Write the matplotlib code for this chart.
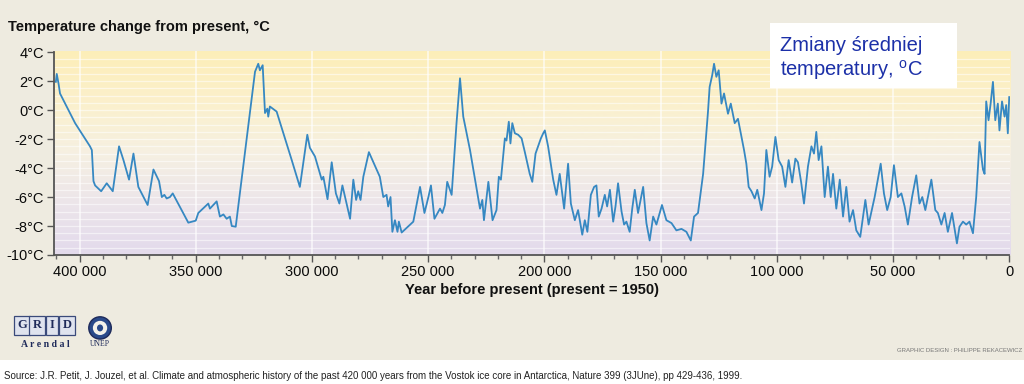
import numpy as np
import matplotlib
matplotlib.use('Agg')
import matplotlib.pyplot as plt
from matplotlib.colors import LinearSegmentedColormap
from matplotlib.patches import Rectangle, Ellipse
from matplotlib.ticker import MultipleLocator

plt.rcParams['font.family'] = ['Liberation Sans', 'DejaVu Sans']
plt.rcParams['mathtext.fontset'] = 'custom'
plt.rcParams['mathtext.rm'] = 'Liberation Sans'

# Vostok record: years before present, temperature change
years = [410200, 409800, 409000, 408400, 401900, 395500, 394700, 394000, 393300, 390700,
         388300, 385700, 383000, 381100, 378700, 376800, 374700, 370700, 368200, 365800,
         364600, 363500, 362500, 361100, 359900, 353200, 350000, 348900, 344600, 343900,
         341000, 339600, 338100, 336700, 335300, 334500, 332800, 324500, 323100, 322400,
         321200, 320200, 319200, 318800, 318100, 315200, 308700, 305200, 302000, 300900,
         298700, 295800, 295100, 293300, 291500, 289700, 288200, 286900, 283600, 282200,
         281000, 280100, 279100, 277900, 275500, 270800, 269300, 267900, 267200, 266200,
         265400, 264300, 263200, 262600, 261400, 256400, 253500, 251600, 249900, 248800,
         247300, 244900, 243900, 242800, 241800, 239900, 237800, 236300, 234900, 232000,
         227700, 226700, 226000, 224100, 222300, 220600, 219600, 218700, 217000, 216300,
         215300, 214600, 213800, 212700, 211300, 209800, 208400, 207300, 206300, 205200,
         203800, 201500, 200500, 199800, 198400, 196200, 194800, 193400, 191500, 189800,
         188600, 186900, 185500, 183700, 182600, 181500, 180000, 178600, 177600, 176600,
         175400, 174000, 173000, 171800, 170400, 169400, 168300, 166800, 165700, 164700,
         163300, 162200, 161100, 159700, 157500, 156100, 154700, 153200, 151800, 149400,
         147500, 145300, 143200, 141000, 138900, 137000, 135600, 133900, 131700, 129600,
         128900, 127800, 127000, 126000, 125000, 123800, 122700, 121000, 119800, 118100,
         116700, 115200, 114100, 113100, 112100, 110900, 109500, 108400, 106600, 105500,
         104500, 103100, 102000, 100600, 99200, 97700, 96300, 94900, 93400, 92000,
         90900, 89500, 88300, 86600, 85100, 84000, 83000, 82000, 80800, 79400,
         78000, 76800, 75800, 74400, 72900, 71500, 70100, 68700, 67200, 65800,
         64100, 61900, 60500, 57900, 55300, 53900, 52500, 51000, 49600, 47900,
         46400, 45000, 43600, 41800, 40000, 38600, 37400, 36100, 35000, 33500,
         31800, 30700, 29200, 27800, 26400, 24600, 23500, 22500, 21400, 19900,
         18500, 17100, 15600, 14200, 12800, 11300, 10600, 9900, 8900, 8000,
         7000, 6000, 4900, 4200, 3100, 2000, 1300, 600, 0]
temps = [1.95, 2.5, 1.8, 1.15, -0.9, -2.5, -2.76, -4.9, -5.2, -5.6,
         -5.05, -5.6, -2.5, -3.45, -4.8, -3.0, -5.3, -6.55, -4.1, -4.9,
         -6.0, -5.85, -6.1, -6.0, -5.75, -7.77, -7.63, -7.1, -6.45, -6.8,
         -6.3, -7.35, -7.2, -7.5, -7.35, -8.0, -8.05, 2.65, 3.2, 2.75,
         3.1, -0.2, 0.1, -0.45, 0.25, -0.1, -3.45, -5.3, -1.7, -2.6,
         -3.2, -4.8, -4.6, -6.15, -3.6, -5.75, -6.45, -5.2, -7.5, -4.8,
         -6.2, -5.6, -6.2, -4.6, -2.9, -4.6, -6.0, -5.85, -6.65, -6.0,
         -8.4, -7.6, -8.4, -7.7, -8.45, -7.7, -5.3, -7.1, -6.0, -5.2,
         -7.5, -6.8, -7.1, -6.55, -4.95, -5.85, -0.9, 2.2, -0.45, -2.75,
         -6.8, -6.2, -7.6, -4.95, -7.6, -6.9, -4.6, -4.8, -1.95, -2.1,
         -0.8, -2.3, -0.9, -1.6, -1.7, -1.95, -2.9, -3.7, -4.4, -4.95,
         -3.0, -1.95, -1.6, -1.4, -2.5, -4.8, -5.85, -4.4, -6.8, -3.7,
         -6.45, -7.6, -6.9, -8.6, -7.6, -8.4, -5.85, -5.3, -5.2, -7.35,
         -6.8, -5.85, -6.65, -5.5, -7.7, -6.65, -5.05, -7.0, -7.9, -7.7,
         -8.4, -6.8, -5.5, -7.1, -5.3, -7.8, -9.0, -7.35, -7.9, -6.55,
         -7.6, -7.8, -8.3, -8.2, -8.4, -9.0, -7.35, -7.1, -4.4, -0.1,
         1.6, 2.4, 3.2, 2.3, 2.75, 0.45, 1.15, -0.25, 0.45, -0.9,
         -0.6, -1.85, -2.75, -3.7, -5.3, -5.6, -6.1, -5.5, -6.9, -5.75,
         -2.75, -4.6, -3.9, -1.85, -3.45, -3.9, -5.3, -3.45, -5.0, -3.35,
         -3.6, -5.0, -6.45, -3.9, -2.5, -3.0, -1.5, -3.45, -2.5, -6.0,
         -3.9, -6.0, -4.4, -6.8, -4.8, -7.35, -5.3, -7.7, -6.9, -8.3,
         -8.75, -6.2, -7.9, -6.0, -3.7, -5.75, -6.9, -6.0, -3.8, -6.0,
         -5.75, -6.65, -7.9, -6.0, -4.5, -6.45, -6.0, -6.9, -6.0, -4.8,
         -6.9, -7.1, -7.9, -7.1, -8.4, -7.1, -8.2, -9.2, -8.05, -7.7,
         -7.9, -7.7, -8.5, -6.0, -2.2, -4.1, -4.4, 0.6, -0.7, 0.45,
         1.95, -0.7, 0.45, -1.4, 0.6, -0.45, 0.35, -1.6, 0.9]

y_ticks = [4, 2, 0, -2, -4, -6, -8, -10]
x_ticks = [400000, 350000, 300000, 250000, 200000, 150000, 100000, 50000, 0]

fig = plt.figure(figsize=(10.24, 3.84), dpi=100, facecolor='#eeebe0')
fig.add_artist(Rectangle((0, 0), 1, 0.062, transform=fig.transFigure,
                         facecolor='white', edgecolor='none', zorder=0))

ax = fig.add_axes([0.0527, 0.336, 0.934, 0.53])
ax.set_facecolor('none')

cmap = LinearSegmentedColormap.from_list('bg', ['#e3daec', '#ece5ea', '#f6f0e2', '#fbf0cc', '#fdeeb8'])
grad = np.linspace(0, 1, 256).reshape(-1, 1)
ax.imshow(grad, cmap=cmap, origin='lower', extent=[0, 1, 0, 1], transform=ax.transAxes,
          aspect='auto', zorder=0)

for v in np.arange(-9.5, 4.0, 0.5):
    ax.axhline(v, color='white', lw=0.9, alpha=0.55, zorder=1)
for v in x_ticks[:-1]:
    ax.axvline(v, color='white', lw=1.2, alpha=0.7, zorder=1)

ax.plot(years, temps, color='#3688c2', lw=1.3, zorder=3)

ax.set_xlim(411000, -500)
ax.set_ylim(-10, 4.05)

for s in ['top', 'right']:
    ax.spines[s].set_visible(False)
for s in ['left', 'bottom']:
    ax.spines[s].set_color('#555555')
    ax.spines[s].set_linewidth(1.3)
ax.spines['left'].set_bounds(-10, 4)
ax.spines['bottom'].set_bounds(411000, 0)

ax.set_yticks(y_ticks)
ax.set_yticklabels([f'{v}°C' for v in y_ticks])
ax.set_xticks(x_ticks)
ax.set_xticklabels([f'{v // 1000} 000' if v else '0' for v in x_ticks])
ax.xaxis.set_minor_locator(MultipleLocator(10000))
ax.tick_params(axis='both', which='major', length=5, width=1, color='#555555',
               labelsize=10.5, labelcolor='#0a0a0a', pad=2)
ax.tick_params(axis='x', which='minor', length=3, width=1, color='#666666')

ax.set_xlabel('Year before present (present = 1950)', fontsize=10.5, fontweight='bold',
              color='#111111', labelpad=3)

fig.text(0.008, 0.929, 'Temperature change from present, °C', fontsize=10.5,
         fontweight='bold', color='#111111', va='center')

fig.add_artist(Rectangle((0.752, 0.771), 0.1826, 0.169, transform=fig.transFigure,
                         facecolor='white', edgecolor='none', zorder=5))
fig.text(0.762, 0.882, 'Zmiany średniej', fontsize=14.5, color='#1c30a8', va='center', zorder=6)
fig.text(0.762, 0.818, 'temperatury, $^{\\rm o}$C', fontsize=14.5, color='#1c30a8',
         va='center', zorder=6)

# logos
for i, ch in enumerate('GRID'):
    fig.text(0.0215 + i * 0.0146, 0.1525, ch, fontsize=9, fontweight='bold',
             family='Liberation Serif', color='#1e2a5a', ha='center', va='center',
             bbox=dict(boxstyle='square,pad=0.28', facecolor='#dfe3ee', edgecolor='#3a4a7a', lw=0.9))
fig.text(0.0445, 0.104, 'A r e n d a l', fontsize=7, fontweight='bold',
         family='Liberation Serif', color='#1e2a5a', ha='center', va='center')
fig.add_artist(Ellipse((0.0977, 0.146), 0.022, 0.058, transform=fig.transFigure,
                       facecolor='#2a4a8a', edgecolor='#1e2a5a', lw=1))
fig.add_artist(Ellipse((0.0977, 0.146), 0.014, 0.037, transform=fig.transFigure,
                       facecolor='#f4f2ea', edgecolor='none'))
fig.add_artist(Ellipse((0.0977, 0.146), 0.006, 0.018, transform=fig.transFigure,
                       facecolor='#2a4a8a', edgecolor='none'))
fig.text(0.0977, 0.104, 'UNEP', fontsize=5.5, family='Liberation Serif',
         color='#1e2a5a', ha='center', va='center')

fig.text(0.998, 0.088, 'GRAPHIC DESIGN : PHILIPPE REKACEWICZ', fontsize=4.3,
         color='#777777', ha='right', va='center')
fig.text(0.004, 0.021, 'Source: J.R. Petit, J. Jouzel, et al. Climate and atmospheric history of the '
         'past 420 000 years from the Vostok ice core in Antarctica, Nature 399 (3JUne), pp 429-436, 1999.',
         fontsize=7, color='#222222', va='center')

fig.savefig('out.png', dpi=100, facecolor=fig.get_facecolor())
